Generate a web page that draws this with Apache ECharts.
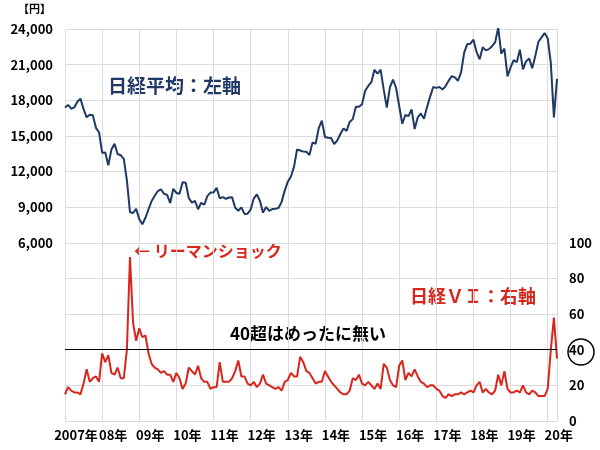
<!DOCTYPE html>
<html>
<head>
<meta charset="utf-8">
<script src="https://cdn.jsdelivr.net/npm/echarts@6/dist/echarts.min.js"></script>
<style>html,body{margin:0;background:#fff}#main{width:600px;height:450px}</style>
</head>
<body>
<div id="main"></div>
<script>
// 月次データ（2007年1月～2020年4月）
var startYear = 2007;
var yearLabels = ['2007年','08年','09年','10年','11年','12年','13年','14年','15年','16年','17年','18年','19年','20年'];
var nikkei = [
 17383,17604,17288,17400,17876,18138,17248,16569,16786,16737,15680,15308,
 13592,13603,12525,13849,14338,13481,13376,13072,11259,8577,8512,8860,
 7994,7568,8109,8828,9522,9958,10356,10492,10133,10034,9345,10546,
 10198,10126,11089,11057,9768,9382,9537,8824,9369,9202,9937,10228,
 10237,10624,9755,9849,9693,9816,9833,8955,8700,8988,8434,8455,
 8802,9723,10083,9520,8542,9006,8695,8839,8870,8928,9446,10395,
 11138,11559,12397,13860,13774,13677,13668,13388,14455,14327,15661,16291,
 14914,14841,14827,14304,14632,15162,15620,15424,16173,16413,17459,17450,
 17674,18797,19206,19520,20563,20235,20585,18890,17388,19083,19747,19033,
 17518,16026,16758,16666,17234,15575,16569,16887,16449,17425,18308,19114,
 19041,19118,18909,19196,19650,20033,19925,19646,20356,22011,22724,22764,
 23098,22068,21454,22467,22201,22304,22553,22865,24120,21920,22351,20014,
 20773,21385,21205,22258,20601,21275,21521,20704,21755,22927,23293,23656,
 23205,21142,16552,19800
];
var vi = [
 15,19,17,16,16,15,21,29,22,24,25,22,
 38,33,37,27,26,30,24,24,40,92,55,45,
 52,47,48,38,32,30,29,27,28,26,26,22,
 27,24,18,21,30,28,26,31,24,22,22,18,
 19,19,33,22,22,22,24,28,34,25,25,21,
 20,22,19,21,26,21,20,19,18,19,17,22,
 23,27,25,25,36,33,28,27,24,21,22,22,
 28,25,22,20,18,16,15,15,17,24,23,26,
 21,20,22,20,18,21,18,32,30,23,20,19,
 31,34,23,27,25,29,25,22,21,19,20,20,
 18,17,14,13,15,14,15,15,16,15,16,17,
 16,20,22,16,18,16,15,17,26,20,28,18,
 16,16,17,16,20,16,15,17,16,14,14,14,
 18,40,58,35
];

function toPairs(arr) {
	var out = [];
	for (var i = 0; i < arr.length; i++) {
		out.push([startYear + i / 12, arr[i]]);
	}
	return out;
}

var chart = echarts.init(document.getElementById('main'));
var font = "'Noto Sans CJK JP', sans-serif";
chart.setOption({
	animation: false,
	textStyle: { fontFamily: font },
	grid: { left: 65, right: 43, top: 29, bottom: 29 },
	xAxis: {
		type: 'value', min: 2007, max: 2020.25, interval: 1,
		axisLine: { show: false }, axisTick: { show: false },
		splitLine: { show: true, lineStyle: { color: '#dcdcdc' } },
		axisLabel: {
			color: '#000', fontWeight: 'bold', fontSize: 13, margin: 8,
			padding: [0, 0, 0, 22], showMaxLabel: false,
			formatter: function (v) { return yearLabels[Math.round(v) - startYear] || ''; }
		}
	},
	yAxis: [{
		type: 'value', min: -9000, max: 24000, interval: 3000,
		axisLine: { show: false }, axisTick: { show: false },
		splitLine: { show: true, lineStyle: { color: '#dcdcdc' } },
		axisLabel: {
			color: '#000', fontWeight: 'bold', fontSize: 13, margin: 12,
			formatter: function (v) { return v >= 6000 ? echarts.format.addCommas(v) : ''; }
		}
	}, {
		type: 'value', min: 0, max: 220, interval: 20,
		axisLine: { show: false }, axisTick: { show: false }, splitLine: { show: false },
		axisLabel: {
			color: '#000', fontWeight: 'bold', fontSize: 13, margin: 12,
			formatter: function (v) { return v <= 100 ? String(v) : ''; }
		}
	}],
	series: [{
		name: '日経平均', type: 'line', yAxisIndex: 0, showSymbol: false,
		data: toPairs(nikkei), lineStyle: { color: '#1f3864', width: 2 }, itemStyle: { color: '#1f3864' }
	}, {
		name: '日経VI', type: 'line', yAxisIndex: 1, showSymbol: false,
		data: toPairs(vi), lineStyle: { color: '#d9261c', width: 2 }, itemStyle: { color: '#d9261c' },
		markLine: {
			silent: true, symbol: 'none', label: { show: false },
			lineStyle: { color: '#000', width: 1.2, type: 'solid' },
			data: [{ yAxis: 40 }]
		}
	}],
	graphic: [
		{ type: 'text', left: 18, top: 3, style: { text: '【円】', font: 'bold 11px ' + font, fill: '#000' } },
		{ type: 'text', left: 108, top: 76, style: { text: '日経平均：左軸', font: 'bold 19px ' + font, fill: '#1f3864' } },
		{ type: 'text', left: 134, top: 243, style: { text: '← リーマンショック', font: 'bold 16px ' + font, fill: '#d9261c' } },
		{ type: 'text', left: 410, top: 287, style: { text: '日経ＶＩ：右軸', font: 'bold 18px ' + font, fill: '#d9261c' } },
		{ type: 'text', left: 230, top: 325, style: { text: '40超はめったに無い', font: 'bold 17px ' + font, fill: '#000' } },
		{ type: 'circle', shape: { cx: 581, cy: 352, r: 13 }, style: { fill: 'none', stroke: '#000', lineWidth: 1.5 } }
	]
});
</script>
</body>
</html>
